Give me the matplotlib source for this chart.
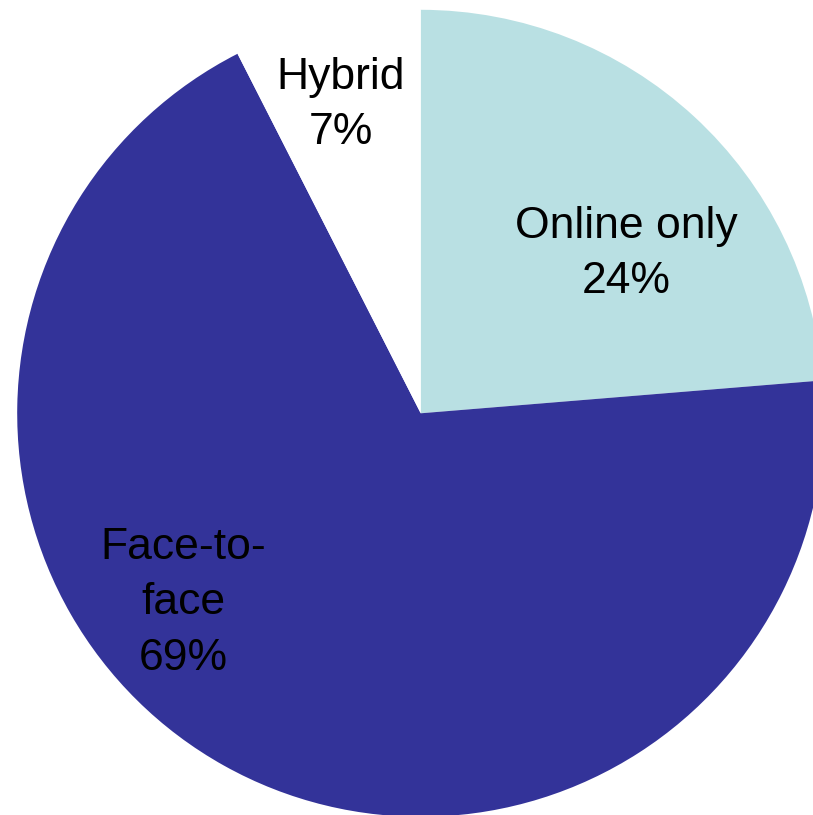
import matplotlib.pyplot as plt

labels = ['Online only', 'Face-to-face', 'Hybrid']
# shares as measured from the slice angles (labels show rounded values)
shares = [23.7, 68.8, 7.5]
colors = ['#b9e0e3', '#333399', '#ffffff']

# label text and where it sits (in pie radius units)
label_texts = ['Online only\n24%', 'Face-to-\nface\n69%', 'Hybrid\n7%']
label_pos = [(0.509, 0.395), (-0.589, -0.47), (-0.198, 0.764)]

plt.rcParams['font.family'] = ['Liberation Sans', 'DejaVu Sans']

fig = plt.figure(figsize=(8.13, 8.15), dpi=100)
r_px = 403.5
cx, cy = 420.7, 815 - 413.3
ax = fig.add_axes([(cx - r_px) / 813, (cy - r_px) / 815,
                   2 * r_px / 813, 2 * r_px / 815])

ax.pie(shares, colors=colors, startangle=90, counterclock=False,
       radius=1, wedgeprops=dict(linewidth=0))

for txt, (x, y) in zip(label_texts, label_pos):
    ax.text(x, y, txt, ha='center', va='center', fontsize=32,
            color='black', linespacing=1.45)

ax.set_xlim(-1, 1)
ax.set_ylim(-1, 1)
ax.set_aspect('equal')
ax.axis('off')

plt.savefig('out.png', dpi=100)
